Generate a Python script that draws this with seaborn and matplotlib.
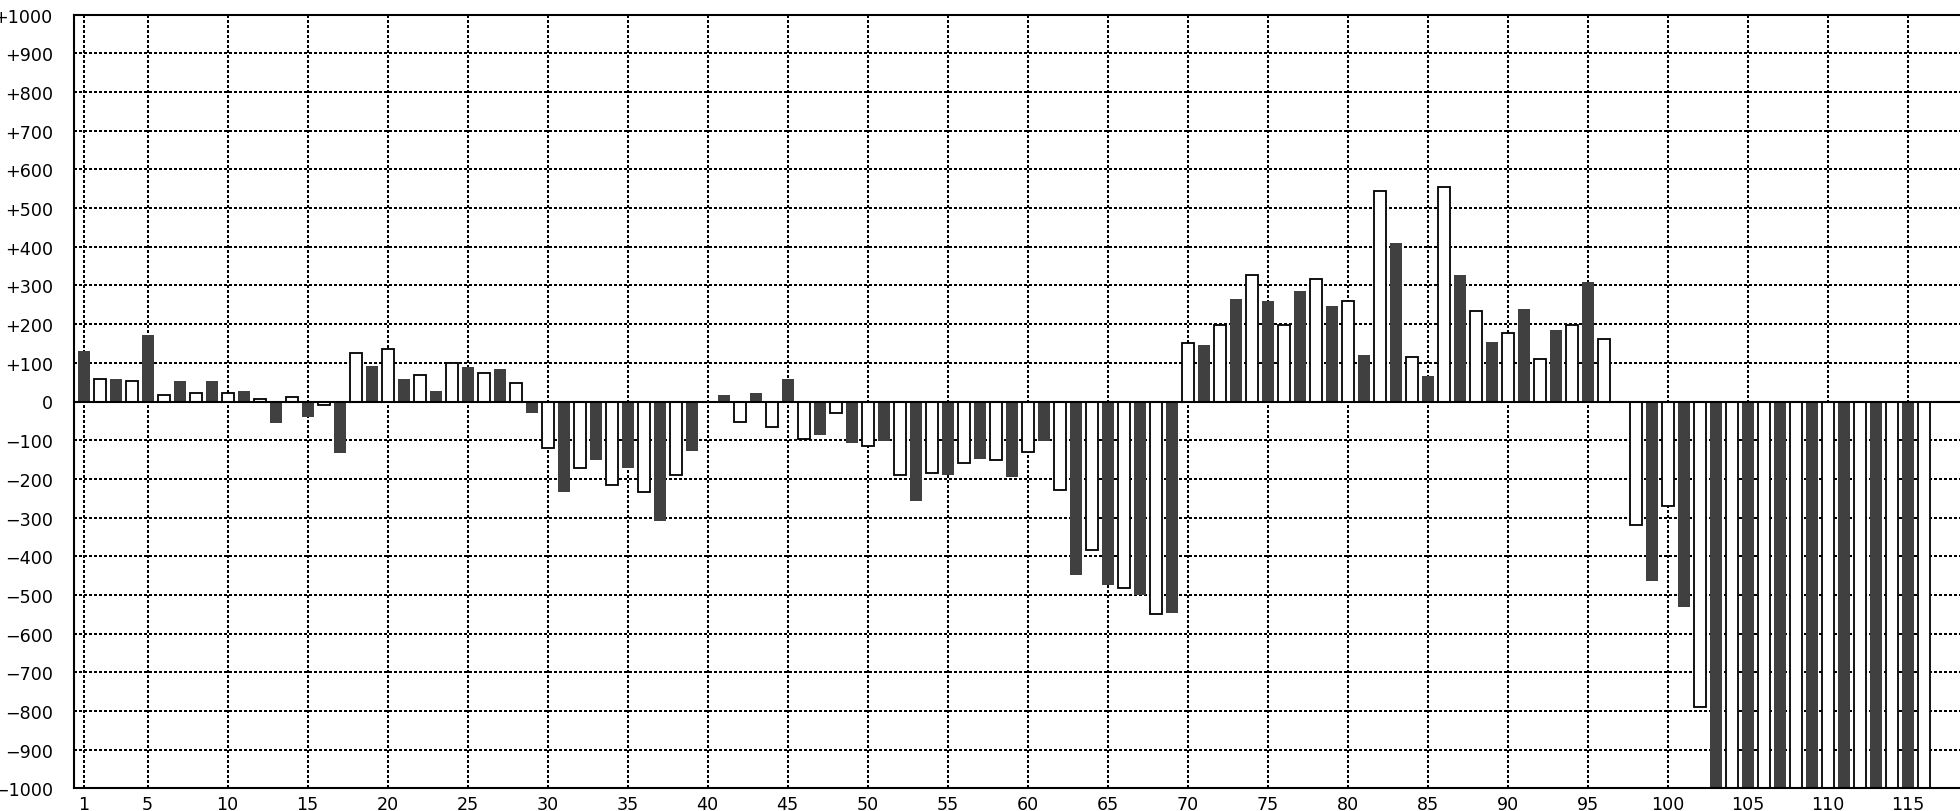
import numpy as np
import pandas as pd
import matplotlib
matplotlib.use("Agg")
import matplotlib.pyplot as plt
import seaborn as sns

# ---- data ----
positions = list(range(1, 117))
values = [
    130, 58, 57, 53, 171, 16, 52, 21, 52, 21,
    26, 6, -56, 12, -41, -10, -134, 126, 93, 136,
    57, 69, 27, 100, 88, 74, 83, 48, -31, -119,
    -233, -172, -150, -217, -171, -234, -310, -191, -129, np.nan,
    16, -53, 21, -67, 57, -98, -87, -31, -108, -114,
    -103, -191, -258, -186, -191, -160, -149, -150, -196, -130,
    -103, -228, -449, -384, -475, -482, -501, -549, -548, 151,
    145, 197, 264, 327, 259, 197, 285, 317, 248, 260,
    119, 544, 409, 115, 67, 555, 326, 234, 155, 177,
    238, 109, 186, 197, 310, 161, np.nan, -320, -465, -269,
    -532, -791, -1000, -1000, -1000, -1000, -1000, -1000, -1000, -1000,
    -1000, -1000, -1000, -1000, -1000, -1000,
]
x_ticks = [1] + list(range(5, 116, 5))
y_ticks = list(range(-1000, 1001, 100))

def ylab(v):
    if v > 0:
        return f"+{v}"
    if v < 0:
        return f"\u2212{abs(v)}"
    return "0"

df = pd.DataFrame({"pos": positions, "val": values}).dropna()
dark_df = df[df["pos"] % 2 == 1]
light_df = df[df["pos"] % 2 == 0]

sns.set_style("white")
plt.rcParams["font.family"] = ["DejaVu Sans"]

W, H = 1960, 812
fig = plt.figure(figsize=(W / 100, H / 100), dpi=100)
left_px, right_px, top_px, bot_px = 73.7, 1960, 15.7, 789.3
ax = fig.add_axes([left_px / W, 1 - bot_px / H, (right_px - left_px) / W, (bot_px - top_px) / H])

sns.barplot(data=dark_df, x="pos", y="val", native_scale=True, width=0.375,
            color="#404040", saturation=1, edgecolor="none", linewidth=0,
            errorbar=None, ax=ax, zorder=2)
sns.barplot(data=light_df, x="pos", y="val", native_scale=True, width=0.375,
            color="white", saturation=1, edgecolor="black", linewidth=1.3,
            errorbar=None, ax=ax, zorder=2)

ax.axhline(0, color="black", lw=1.5, zorder=5)

ax.set_xlim(0.375, 0.375 + (right_px - left_px) / 16.0)
ax.set_ylim(-1000, 1000)
ax.set_xticks(x_ticks)
ax.set_xticklabels([str(t) for t in x_ticks])
ax.set_yticks(y_ticks)
ax.set_yticklabels([ylab(v) for v in y_ticks])
ax.tick_params(axis="y", length=0, pad=15, labelsize=12.6, colors="black")
ax.tick_params(axis="x", length=0, pad=5, labelsize=12.6, colors="black")
ax.set_xlabel("")
ax.set_ylabel("")

ax.set_axisbelow(True)
ax.grid(True, color="black", linestyle=(0, (1, 1)), linewidth=1.45)
for g in ax.get_xgridlines() + ax.get_ygridlines():
    g.set_antialiased(False)

for side in ["left", "top", "bottom"]:
    ax.spines[side].set_visible(True)
    ax.spines[side].set_color("black")
    ax.spines[side].set_linewidth(1.5)
ax.spines["right"].set_visible(False)

if ax.get_legend() is not None:
    ax.get_legend().remove()

fig.savefig("out.png", dpi=100, facecolor="white")
